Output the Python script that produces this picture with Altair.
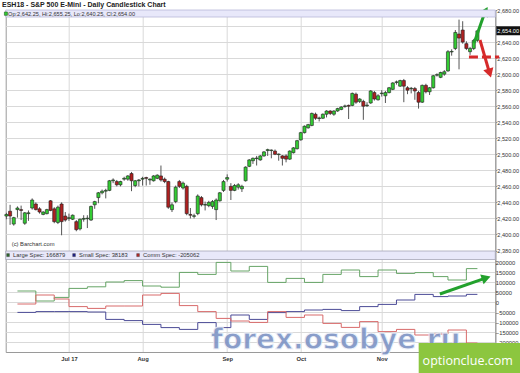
import altair as alt
import pandas as pd

# ---------------- data ----------------
title_text = "ESH18 - S&P 500 E-Mini - Daily Candlestick Chart"

opens = [2423,2429,2413,2431,2431,2414,2426,2433,2438,2432,
         2425,2426,2442,2432,2415,2438,2423,2420,2419,2416,
         2407,2419,2420,2418,2437,2446,2452,2454,2455,2467,
         2466,2462,2469,2469,2476,2461,2467,2469,2471,2468,
         2467,2470,2473,2469,2466,2431,2441,2466,2458,2460,
         2425,2423,2426,2446,2437,2436,2435,2431,2442,2455,
         2469,2460,2455,2459,2457,2467,2485,2492,2495,2493,
         2498,2505,2505,2504,2500,2498,2498,2494,2502,2507,
         2518,2527,2533,2536,2550,2545,2545,2550,2554,2550,
         2554,2556,2560,2561,2561,2575,2566,2566,2561,2564,
         2577,2568,2576,2573,2577,2581,2590,2585,2592,2583,
         2582,2582,2577,2565,2586,2578,2583,2599,2596,2600,
         2604,2628,2632,2650,2655,2638,2628,2632,2642.25]
highs = [2427,2437,2422,2435,2436,2428,2430,2445,2440,2434,
         2429,2432,2443,2434,2436,2440,2428,2426,2425,2418,
         2420,2424,2424,2436,2442,2453,2456,2457,2468,2470,
         2468,2467,2472,2474,2478,2468,2469,2472,2472,2470,
         2474,2475,2486,2471,2467,2440,2461,2468,2466,2462,
         2433,2426,2450,2448,2441,2442,2443,2445,2453,2468,
         2475,2464,2463,2464,2462,2485,2494,2496,2498,2499,
         2504,2507,2506,2506,2501,2499,2500,2505,2509,2518,
         2528,2536,2538,2552,2552,2547,2551,2555,2555,2555,
         2558,2560,2562,2562,2577,2577,2570,2568,2565,2580,
         2579,2575,2580,2579,2584,2590,2592,2593,2594,2585,
         2584,2584,2579,2587,2588,2584,2599,2601,2603,2605,
         2630,2631,2655,2668,2666,2641,2634,2644,2655.25]
lows = [2419,2412,2411,2421,2418,2412,2417,2431,2430,2426,
        2424,2425,2429,2414,2413,2399,2416,2417,2418,2404,
        2405,2416,2408,2417,2432,2439,2450,2445,2454,2464,
        2460,2460,2467,2467,2454,2459,2460,2461,2461,2462,
        2466,2469,2466,2464,2432,2428,2439,2458,2456,2424,
        2420,2420,2424,2435,2430,2434,2432,2418,2441,2453,
        2466,2443,2454,2456,2453,2466,2484,2488,2486,2492,
        2497,2498,2495,2499,2492,2486,2490,2493,2501,2506,
        2517,2526,2532,2535,2543,2541,2544,2546,2549,2548,
        2553,2555,2558,2544,2560,2563,2564,2543,2559,2563,
        2567,2567,2572,2564,2576,2580,2587,2584,2565,2575,
        2576,2568,2557,2564,2576,2574,2582,2597,2595,2598,
        2603,2623,2630,2606,2638,2630,2624,2630,2640.25]
closes = [2425,2423,2421,2433,2430,2427,2427,2443,2431,2428,
          2428,2431,2430,2416,2434,2416,2418,2421,2424,2406,
          2419,2420,2420,2435,2441,2452,2454,2455,2467,2468,
          2462,2466,2470,2473,2467,2467,2468,2470,2470,2469,
          2473,2474,2468,2466,2434,2437,2459,2460,2464,2426,
          2424,2423,2448,2437,2437,2440,2441,2443,2452,2466,
          2471,2455,2461,2462,2460,2484,2493,2495,2495,2498,
          2503,2505.5,2505,2500,2500,2495,2494,2504,2508,2517,
          2527,2535,2537,2551,2545,2545,2550,2554,2551,2554,
          2557,2559,2560,2560,2576,2565,2569,2560,2561,2579,
          2569,2573,2576,2577,2583,2589,2590,2592,2585,2580,
          2582,2579,2565,2586,2578,2583,2598,2599,2602,2603,
          2628,2628,2652,2645,2640,2632,2632,2642,2654]
day_index = list(range(len(closes)))   # trading days, 8 Jun 2017 .. 8 Dec 2017

month_pos = [17, 37, 60, 80, 102]
month_names = ["Jul 17", "Aug", "Sep", "Oct", "Nov"]

price_ticks = list(range(2380, 2681, 20))
cot_ticks = list(range(-250000, 250001, 50000))

cot_days = [3, 8, 13, 17, 22, 27, 32, 37, 42, 47, 52, 57, 61, 66, 71, 76,
            81, 86, 91, 96, 101, 106, 111, 116, 120, 125, 128]
large_spec = [55000, 5000, 23000, 68000, 76000, 100000, 107000, 80000, 74000,
              148000, 138000, 198000, 155000, 178000, 98000, 118000, 98000,
              138000, 160000, 127000, 160000, 143000, 147000, 127000, 110000,
              166879, 166879]
small_spec = [-52000, -48000, -48000, -48000, -50000, -87000, -93000, -112000,
              -128000, -137000, -103000, -128000, -65000, -87000, -53000,
              -48000, -40000, -37000, -43000, -23000, -12000, 10000, 38000,
              27000, 30000, 38183, 38183]
comm_spec = [-10000, 35000, 15000, -23000, -32000, -20000, -20000, 35000, 43000,
             -18000, -48000, -82000, -95000, -102000, -48000, -77000, -65000,
             -107000, -127000, -98000, -148000, -137000, -165000, -160000,
             -140000, -205062, -205062]
cot_names = ["Large Spec", "Small Spec", "Comm Spec"]
cot_line_colors = ["#66a466", "#4a4a96", "#d86a6a"]
cot_key_colors = ["#2f6a2f", "#22228a", "#b42a2a"]

# hand-drawn annotations (data coordinates)
up_arrow = {"x": 127.1, "y": 2638.8, "x2": 130.0, "y2": 2677.0}
down_arrow = {"x": 128.7, "y": 2642.6, "x2": 131.2, "y2": 2603.0}
dash_line = {"x": 125.7, "x2": 133.9, "y": 2621.4}
cot_arrow = {"x": 117.8, "y": 40000, "x2": 130.0, "y2": 118000}

# ---------------- layout constants ----------------
W, H = 489.6, 342
X_DOM = [-0.19, 132.86]
P_DOM = [2253.4, 2680]
C_DOM = [-250000, 1460000]
FONT = "Liberation Sans"
GRID = "#d9d9d9"

candles = pd.DataFrame({"idx": day_index, "o": opens, "h": highs, "l": lows, "c": closes})

lbl = "''"
for p, n in reversed(list(zip(month_pos, month_names))):
    lbl = f"datum.value == {p} ? '{n}' : ({lbl})"


def xs():
    return alt.Scale(domain=X_DOM, nice=False, zero=False)


def ps():
    return alt.Scale(domain=P_DOM, nice=False, zero=False)


def cs():
    return alt.Scale(domain=C_DOM, nice=False, zero=False)


def x_axis():
    return alt.Axis(values=month_pos, labelExpr=lbl, grid=True, gridColor=GRID,
                    domainColor="#9a9a9a", ticks=False, labelFontSize=5.8,
                    labelFontWeight="bold", labelFont=FONT, labelColor="#333",
                    labelPadding=3, title=None)


p_axis = alt.Axis(orient="right", values=price_ticks,
                  labelExpr="datum.value == 2660 ? '' : format(datum.value, ',.2f')",
                  grid=True, gridColor=GRID, tickSize=1.5, tickColor="#888",
                  domainColor="#9a9a9a", labelFontSize=5.6, labelFont=FONT,
                  labelColor="#333", labelPadding=0, title=None)
c_axis = alt.Axis(orient="right", values=cot_ticks,
                  labelExpr="abs(datum.value) > 200000 ? '' : format(datum.value, 'd')",
                  grid=True, gridColor=GRID, ticks=False,
                  domain=False, labelFontSize=5.8, labelFont=FONT,
                  labelColor="#333", labelPadding=0, title=None)

layers = []

# ---------------- price panel ----------------
wicks = alt.Chart(candles).mark_rule(color="#555", strokeWidth=1).encode(
    x=alt.X("idx:Q", scale=xs(), axis=x_axis()),
    y=alt.Y("l:Q", scale=ps(), axis=p_axis),
    y2="h:Q",
)
bodies = alt.Chart(candles).transform_calculate(
    top="max(datum.o, datum.c) + (abs(datum.o - datum.c) < 0.6 ? 0.35 : 0)",
    bot="min(datum.o, datum.c) - (abs(datum.o - datum.c) < 0.6 ? 0.35 : 0)",
    x0="datum.idx - 0.42",
    x1="datum.idx + 0.42",
    dirn="datum.c >= datum.o ? 'up' : 'down'",
).mark_rect(stroke="#1e1e1e", strokeWidth=0.6).encode(
    x=alt.X("x0:Q", scale=xs(), axis=x_axis()),
    x2="x1:Q",
    y=alt.Y("top:Q", scale=ps(), axis=None),
    y2="bot:Q",
    color=alt.Color("dirn:N", scale=alt.Scale(domain=["up", "down"],
                                              range=["#33cc33", "#b02020"]), legend=None),
)
layers += [wicks, bodies]

last_close = closes[-1]
last_df = pd.DataFrame({"p": [last_close], "hi": [last_close + 5.6], "lo": [last_close - 5.6],
                        "t": [f"{last_close:,.2f}"]})
price_box = alt.Chart(last_df).mark_rect(color="#111").encode(
    x=alt.value(W + 1), x2=alt.value(W + 25),
    y=alt.Y("hi:Q", scale=ps(), axis=None), y2="lo:Q")
price_txt = alt.Chart(last_df).mark_text(color="white", fontSize=5.6, font=FONT,
                                         align="left", baseline="middle").encode(
    x=alt.value(W + 2), y=alt.Y("p:Q", scale=ps(), axis=None), text="t:N")
layers += [price_box, price_txt]

# ---------------- COT panel ----------------
cot_rows = []
for name, vals in zip(cot_names, [large_spec, small_spec, comm_spec]):
    for d, v in zip(cot_days, vals):
        cot_rows.append({"idx": d, "value": v, "series": name})
cot_df = pd.DataFrame(cot_rows)
cot_lines = alt.Chart(cot_df).mark_line(interpolate="step-after", strokeWidth=1).encode(
    x=alt.X("idx:Q", scale=xs(), axis=x_axis()),
    y=alt.Y("value:Q", scale=cs(), axis=c_axis),
    color=alt.Color("series:N", scale=alt.Scale(domain=cot_names, range=cot_line_colors),
                    legend=None),
)
layers.append(cot_lines)

# ---------------- hand-drawn annotations ----------------
dash_df = pd.DataFrame([dash_line])
layers.append(alt.Chart(dash_df).mark_rule(color="#d62a2a", strokeWidth=3, strokeDash=[9, 4]).encode(
    x=alt.X("x:Q", scale=xs(), axis=x_axis()), x2="x2:Q",
    y=alt.Y("y:Q", scale=ps(), axis=None)))


def arrow(d, color, angle, yscale):
    df = pd.DataFrame([d])
    shaft = alt.Chart(df).mark_rule(color=color, strokeWidth=3).encode(
        x=alt.X("x:Q", scale=xs(), axis=x_axis()), x2="x2:Q",
        y=alt.Y("y:Q", scale=yscale, axis=None), y2="y2:Q")
    head = alt.Chart(df).mark_point(shape="triangle", filled=True, size=110,
                                    color=color, opacity=1, angle=angle).encode(
        x=alt.X("x2:Q", scale=xs(), axis=x_axis()),
        y=alt.Y("y2:Q", scale=yscale, axis=None))
    return [shaft, head]


layers += arrow(down_arrow, "#d62a2a", 163, ps())
layers += arrow(up_arrow, "#22a12c", 28, ps())
layers += arrow(cot_arrow, "#22a12c", 71, cs())

# ---------------- pixel annotations (bands, legends, texts) ----------------
one = pd.DataFrame({"k": [0]})
layers.append(alt.Chart(one).mark_rect(fill="#e8e8fa", stroke="#b8b8d8", strokeWidth=0.8).encode(
    x=alt.value(0), x2=alt.value(W), y=alt.value(0), y2=alt.value(7)))
layers.append(alt.Chart(one).mark_rect(fill="#e8e8fa", stroke="#a6a6b8", strokeWidth=0.8).encode(
    x=alt.value(0), x2=alt.value(W), y=alt.value(241), y2=alt.value(249.5)))
layers.append(alt.Chart(one).mark_text(fontSize=7, fontWeight="bold", font=FONT, color="#222",
                                       align="left", baseline="middle").encode(
    x=alt.value(-3.7), y=alt.value(-5.5), text=alt.value(title_text)))
ohlc_text = (f"Op:{opens[-1]:,.2f}, Hi:{highs[-1]:,.2f}, "
             f"Lo:{lows[-1]:,.2f}, Cl:{closes[-1]:,.2f}")
layers.append(alt.Chart(one).mark_rect(fill="#33cc33", stroke="#1e5e1e", strokeWidth=0.6).encode(
    x=alt.value(-1.3), x2=alt.value(1.7), y=alt.value(2), y2=alt.value(5.3)))
layers.append(alt.Chart(one).mark_text(fontSize=5.6, font=FONT, color="#333",
                                       align="left", baseline="middle").encode(
    x=alt.value(2.4), y=alt.value(3.8), text=alt.value(ohlc_text)))
layers.append(alt.Chart(one).mark_text(fontSize=5.8, font=FONT, color="#333",
                                       align="left", baseline="middle").encode(
    x=alt.value(6), y=alt.value(234.3), text=alt.value("(c) Barchart.com")))

cot_last = [large_spec[-1], small_spec[-1], comm_spec[-1]]
key_x = [1.0, 67.0, 131.0]
for n, v, kx, col in zip(cot_names, cot_last, key_x, cot_key_colors):
    layers.append(alt.Chart(one).mark_rect(fill=col, stroke="#333", strokeWidth=0.4).encode(
        x=alt.value(kx), x2=alt.value(kx + 2.7), y=alt.value(243.6), y2=alt.value(246.6)))
    layers.append(alt.Chart(one).mark_text(fontSize=5.8, font=FONT, color="#333",
                                           align="left", baseline="middle").encode(
        x=alt.value(kx + 6.4), y=alt.value(245.3), text=alt.value(f"{n}: {v}")))

# watermarks present in the reference image
layers.append(alt.Chart(one).mark_text(fontSize=28, fontWeight="bold", font="DejaVu Sans",
                                       fill="#7d93c4", stroke="#eef2fa", strokeWidth=0.8,
                                       opacity=0.9, align="center", baseline="middle").encode(
    x=alt.value(330), y=alt.value(330.5), text=alt.value("forex.osobye.ru")))
layers.append(alt.Chart(one).mark_rect(fill="#8cc63f").encode(
    x=alt.value(413), x2=alt.value(514.3), y=alt.value(333), y2=alt.value(363)))
layers.append(alt.Chart(one).mark_text(fontSize=12.5, font="Open Sans", color="white",
                                       align="center", baseline="middle").encode(
    x=alt.value(462), y=alt.value(351), text=alt.value("optionclue.com")))

chart = alt.layer(*layers).resolve_scale(
    y="independent", color="independent"
).properties(
    width=W, height=H,
    autosize=alt.AutoSizeParams(type="none"),
    padding={"left": 5.7, "top": 10, "right": 24.7, "bottom": 21},
    background="white",
).configure_view(stroke="#9a9a9a", strokeWidth=1)

chart.save("out.html", embed_options={"renderer": "svg", "actions": False})
